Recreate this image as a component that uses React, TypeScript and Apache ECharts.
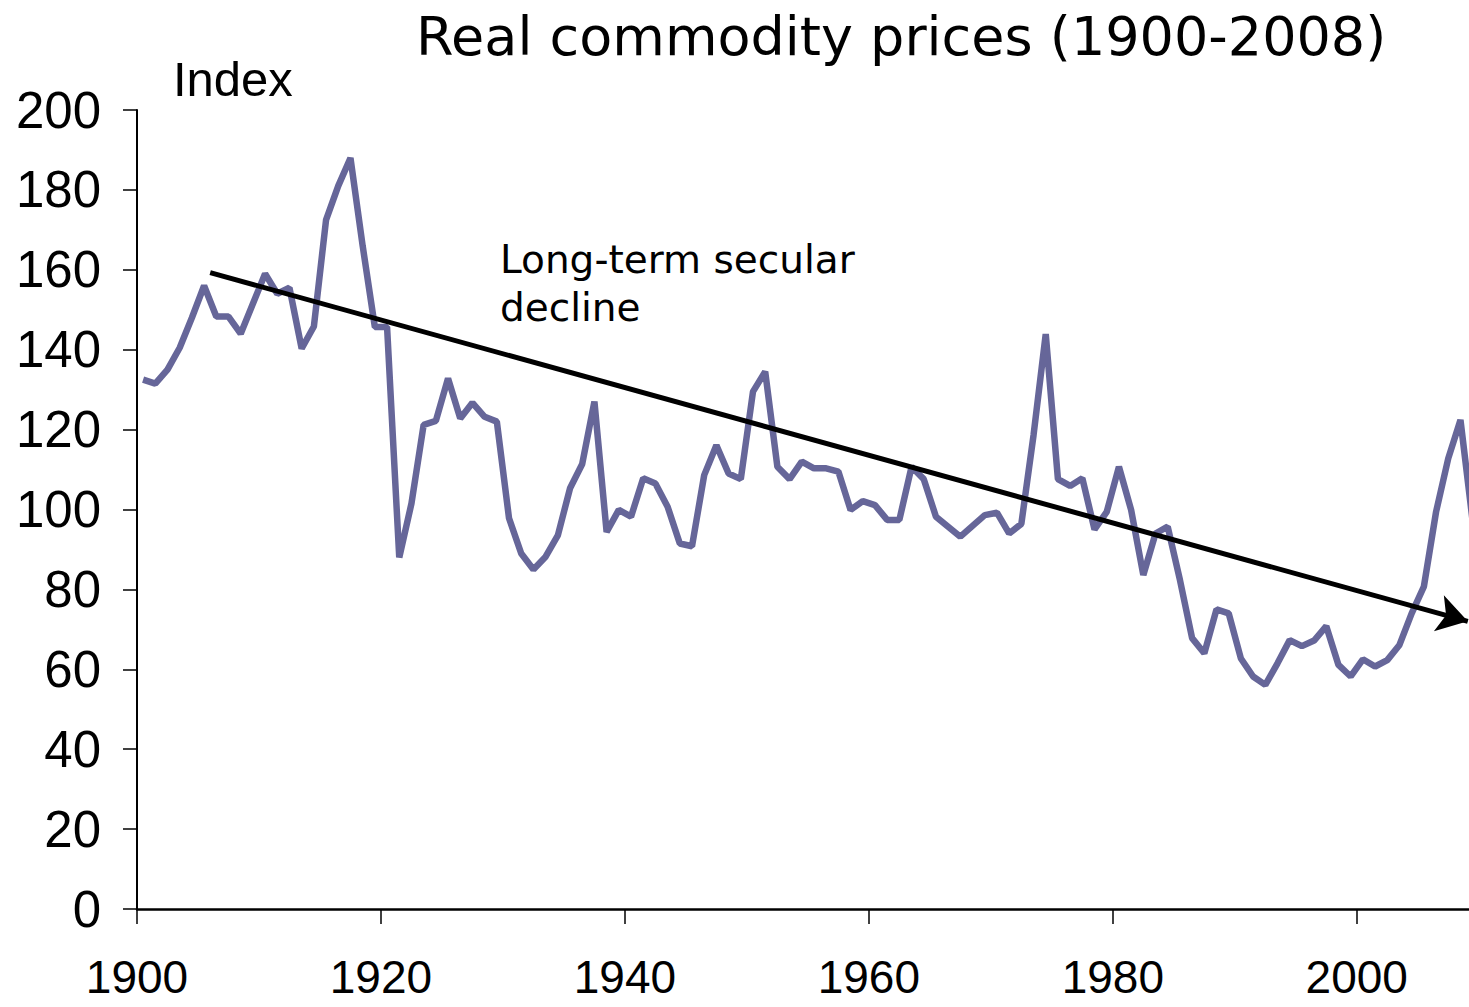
import React, { useEffect, useRef } from "react";
import * as echarts from "echarts";

const years: number[] = [];
for (let y = 1900; y <= 2009; y++) years.push(y);

const priceIndex: number[] = [
  132.5, 131.5, 135, 140.5, 148, 156, 148.3, 148.3, 144, 151.5,
  159, 154, 155.5, 140.3, 145.8, 172.5, 181, 188, 166, 145.7,
  145.7, 88, 101.5, 121.2, 122.2, 132.8, 122.8, 126.7, 123.2, 122,
  97.8, 89, 85, 88.2, 93.5, 105.3, 111.4, 127, 94.4, 99.9,
  98.2, 107.8, 106.5, 100.7, 91.5, 90.8, 108.6, 116.1, 109, 107.6,
  129.5, 134.5, 110.7, 107.6, 112, 110.3, 110.3, 109.5, 99.9, 102.1,
  101.1, 97.4, 97.4, 110.7, 107.6, 98.2, 95.7, 93.2, 95.9, 98.6,
  99.2, 94, 96.4, 118.6, 143.9, 107.6, 105.9, 107.8, 95, 99.4,
  110.7, 99.9, 83.6, 94, 95.7, 82.4, 67.8, 64, 75, 74,
  62.7, 58.2, 56.1, 61.5, 67.3, 65.8, 67.2, 70.8, 61.1, 58.2,
  62.5, 60.7, 62.3, 66.1, 74, 80.7, 99.4, 112.8, 122.4, 97,
];

const xTickYears: number[] = [1900, 1920, 1940, 1960, 1980, 2000];
const yTicks: number[] = [0, 20, 40, 60, 80, 100, 120, 140, 160, 180, 200];

// trend arrow endpoints [year, index]
const trendStart: number[] = [1906.0, 159.3];
const trendEnd: number[] = [2009.1, 72.0];

const titleText = "Real commodity prices (1900-2008)";
const yAxisTitle = "Index";
const annotation = "Long-term secular\ndecline";

export default function App() {
  const ref = useRef<HTMLDivElement>(null);

  useEffect(() => {
    if (!ref.current) return;
    const chart = echarts.init(ref.current, undefined, { renderer: "svg" });
    const seriesData = years.map((y, i) => [y + 0.5, priceIndex[i]]);
    chart.setOption({
      animation: false,
      backgroundColor: "#ffffff",
      title: {
        text: titleText,
        left: 411,
        top: 4,
        textStyle: {
          fontFamily: "DejaVu Sans",
          fontSize: 54,
          fontWeight: "normal",
          color: "#000000",
        },
      },
      grid: { left: 137, right: 0, top: 110, bottom: 98, containLabel: false },
      xAxis: {
        type: "value",
        min: 1900,
        max: 2009.2,
        interval: 20,
        axisLine: { show: true, lineStyle: { color: "#000000", width: 2.5 } },
        axisTick: {
          show: true,
          length: 15,
          customValues: xTickYears,
          lineStyle: { color: "#000000", width: 1.5 },
        },
        axisLabel: {
          customValues: xTickYears,
          margin: 45,
          fontFamily: "Liberation Sans",
          fontSize: 46,
          color: "#000000",
          formatter: (v: number) => String(v),
        },
        splitLine: { show: false },
      },
      yAxis: {
        type: "value",
        min: 0,
        max: 200,
        interval: 20,
        axisLine: { show: true, lineStyle: { color: "#000000", width: 2 } },
        axisTick: {
          show: true,
          length: 14,
          customValues: yTicks,
          lineStyle: { color: "#000000", width: 1.5 },
        },
        axisLabel: {
          margin: 36,
          fontFamily: "Liberation Sans",
          fontSize: 51,
          color: "#000000",
        },
        splitLine: { show: false },
      },
      graphic: [
        {
          type: "text",
          left: 173,
          top: 54,
          style: {
            text: yAxisTitle,
            fontFamily: "Liberation Sans",
            fontSize: 49,
            fill: "#000000",
          },
        },
        {
          type: "text",
          left: 500,
          top: 235,
          style: {
            text: annotation,
            fontFamily: "DejaVu Sans",
            fontSize: 39,
            lineHeight: 48,
            fill: "#000000",
          },
        },
      ],
      series: [
        {
          type: "line",
          data: seriesData,
          showSymbol: false,
          symbol: "none",
          clip: true,
          lineStyle: { color: "#666699", width: 6.5 },
          emphasis: { disabled: true },
          silent: true,
          markLine: {
            silent: true,
            symbol: ["none", "arrow"],
            symbolSize: [28, 30],
            label: { show: false },
            lineStyle: { color: "#000000", width: 5, type: "solid" },
            emphasis: { disabled: true },
            data: [[{ coord: trendStart }, { coord: trendEnd }]],
          },
        },
      ],
    });
    return () => chart.dispose();
  }, []);

  return (
    <div
      ref={ref}
      style={{ position: "fixed", left: 0, top: 0, width: 1469, height: 1007 }}
    />
  );
}
